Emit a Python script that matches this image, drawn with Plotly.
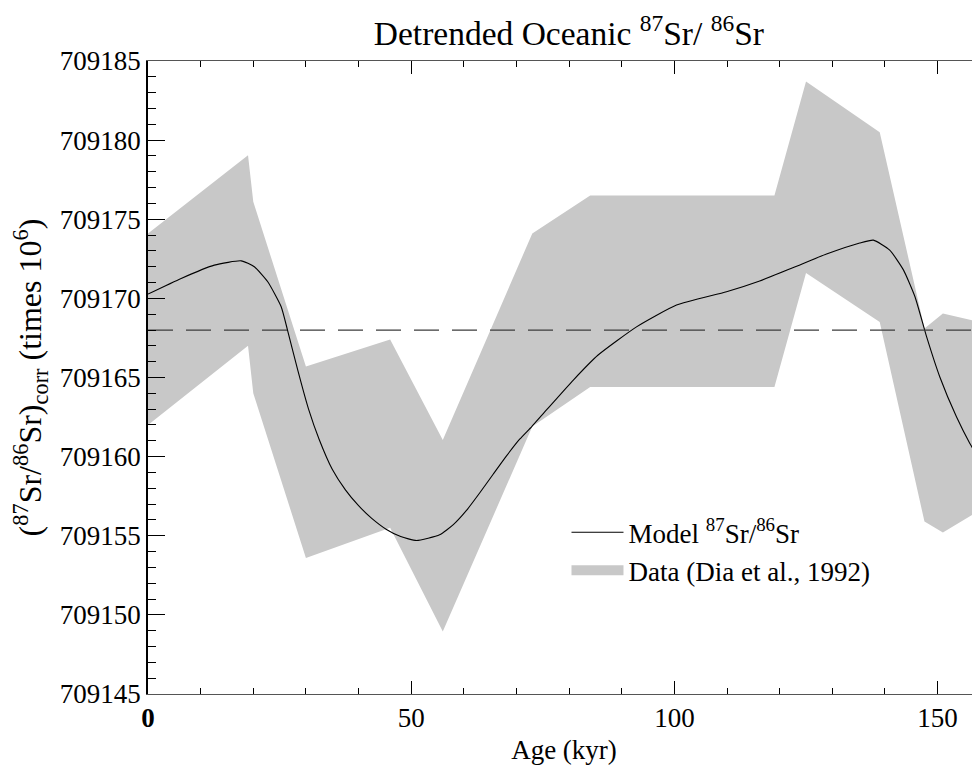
import plotly.graph_objects as go

# ---- data ----
band_age = [0, 19, 20, 30, 46, 56, 73, 84, 119, 125, 139, 147.5, 151, 160]
band_upper = [709174.1, 709179.05, 709176.1, 709165.7, 709167.4, 709161.05, 709174.1,
              709176.5, 709176.5, 709183.7, 709180.5, 709168.1, 709169.05, 709168.35]
band_lower = [709162.0, 709167.0, 709164.0, 709153.6, 709155.5, 709148.95, 709161.9,
              709164.4, 709164.4, 709171.6, 709168.5, 709155.9, 709155.2, 709157.0]

model_age = [0, 6.3, 12.6, 17.7, 20.2, 22.75, 25.3, 26.5, 28.5, 30.5, 32.5, 35, 37.5, 40,
             42.5, 45.3, 48, 51.0, 55.4, 58, 60.5, 63, 65.6, 68, 70.6, 72.9, 75.7, 80.8,
             85.5, 92.8, 100.4, 109.9, 116.2, 122.6, 128.9, 135.2, 137.8, 140.9, 143.5,
             145.7, 147.9, 150.4, 153.6, 156.1, 158.0]
model_val = [709170.27, 709171.26, 709172.1, 709172.37, 709172.0, 709171.05, 709169.47,
             709168.0, 709165.4, 709163.0, 709161.1, 709159.2, 709157.9, 709156.9,
             709156.1, 709155.4, 709154.95, 709154.7, 709155.06, 709155.7, 709156.6,
             709157.7, 709158.9, 709160.0, 709161.1, 709161.9, 709162.95, 709164.84,
             709166.42, 709168.2, 709169.58, 709170.42, 709171.1, 709171.95, 709172.8,
             709173.5, 709173.68, 709173.05, 709171.8, 709170.1, 709167.58, 709165.05,
             709162.5, 709160.85, 709159.8]

mean_level = 709168.0
mean_age = [0, 160]

x_ticks = [0, 50, 100, 150]
x_tick_text = ["<b>0</b>", "50", "100", "150"]

BAND = "#c8c8c8"
FONT = "Liberation Serif"

fig = go.Figure()
fig.add_trace(go.Scatter(
    x=band_age + band_age[::-1],
    y=band_upper + band_lower[::-1],
    fill="toself", fillcolor=BAND, mode="lines", line=dict(width=0),
    showlegend=False, hoverinfo="skip"))
fig.add_trace(go.Scatter(
    x=mean_age, y=[mean_level, mean_level], mode="lines", yaxis="y2",
    line=dict(color="#3c3c3c", width=1.3, dash="25px,13px"),
    showlegend=False, hoverinfo="skip"))
fig.add_trace(go.Scatter(
    x=model_age, y=model_val, mode="lines",
    line=dict(color="black", width=1.1, shape="spline", smoothing=0.5),
    name="Model <sup>87</sup>Sr/<sup>86</sup>Sr"))
fig.add_trace(go.Scatter(
    x=[None], y=[None], mode="lines", line=dict(color=BAND, width=23),
    name="Data (Dia et al., 1992)"))

# the page body has an 8px margin, so the figure is sized to end at the window edge
fig.update_layout(
    width=972, height=757,
    margin=dict(l=140, r=0, t=53, b=71),
    plot_bgcolor="white", paper_bgcolor="white",
    font=dict(family=FONT, size=27, color="black"),
    title=dict(text="Detrended Oceanic <sup>87</sup>Sr/ <sup>86</sup>Sr",
               x=0.577, xanchor="center", xref="container",
               y=0.9666, yanchor="middle", yref="container",
               font=dict(family=FONT, size=33.5, color="black")),
    xaxis=dict(range=[0, 158.05], tickmode="array", tickvals=x_ticks, ticktext=x_tick_text,
               ticks="inside", ticklen=13, tickwidth=1, tickcolor="black",
               showline=True, linecolor="#555555", linewidth=1, mirror="ticks",
               showgrid=False, zeroline=False,
               tickfont=dict(family=FONT, size=27, color="black"),
               minor=dict(dtick=10, tick0=0, ticks="inside", ticklen=6, tickwidth=1,
                          tickcolor="black", showgrid=False),
               title=dict(text="Age (kyr)", standoff=7,
                          font=dict(family=FONT, size=27, color="black"))),
    yaxis=dict(range=[709145, 709185], tickmode="linear", tick0=709145, dtick=5,
               tickformat="d", ticks="inside", ticklen=17, tickwidth=1, tickcolor="black",
               showline=True, linecolor="black", linewidth=1.5, mirror=False,
               showgrid=False, zeroline=False,
               tickfont=dict(family=FONT, size=27, color="black"),
               minor=dict(dtick=1, tick0=709145, ticks="inside", ticklen=8, tickwidth=1,
                          tickcolor="black", showgrid=False),
               title=dict(text="(<sup>87</sup>Sr/<sup>86</sup>Sr)<sub>corr</sub> (times 10<sup>6</sup>)",
                          standoff=21, font=dict(family=FONT, size=32, color="black"))),
    yaxis2=dict(overlaying="y", side="right", range=[709145, 709185], tickmode="linear",
                tick0=709145, dtick=5, ticks="inside", ticklen=7, tickwidth=1,
                tickcolor="black", showticklabels=False, showline=False,
                showgrid=False, zeroline=False),
    legend=dict(x=0.503, y=0.2935, xanchor="left", yanchor="top",
                bgcolor="rgba(0,0,0,0)", itemwidth=52, tracegroupgap=0,
                font=dict(family=FONT, size=27, color="black")),
)

fig.write_html("out.html")
